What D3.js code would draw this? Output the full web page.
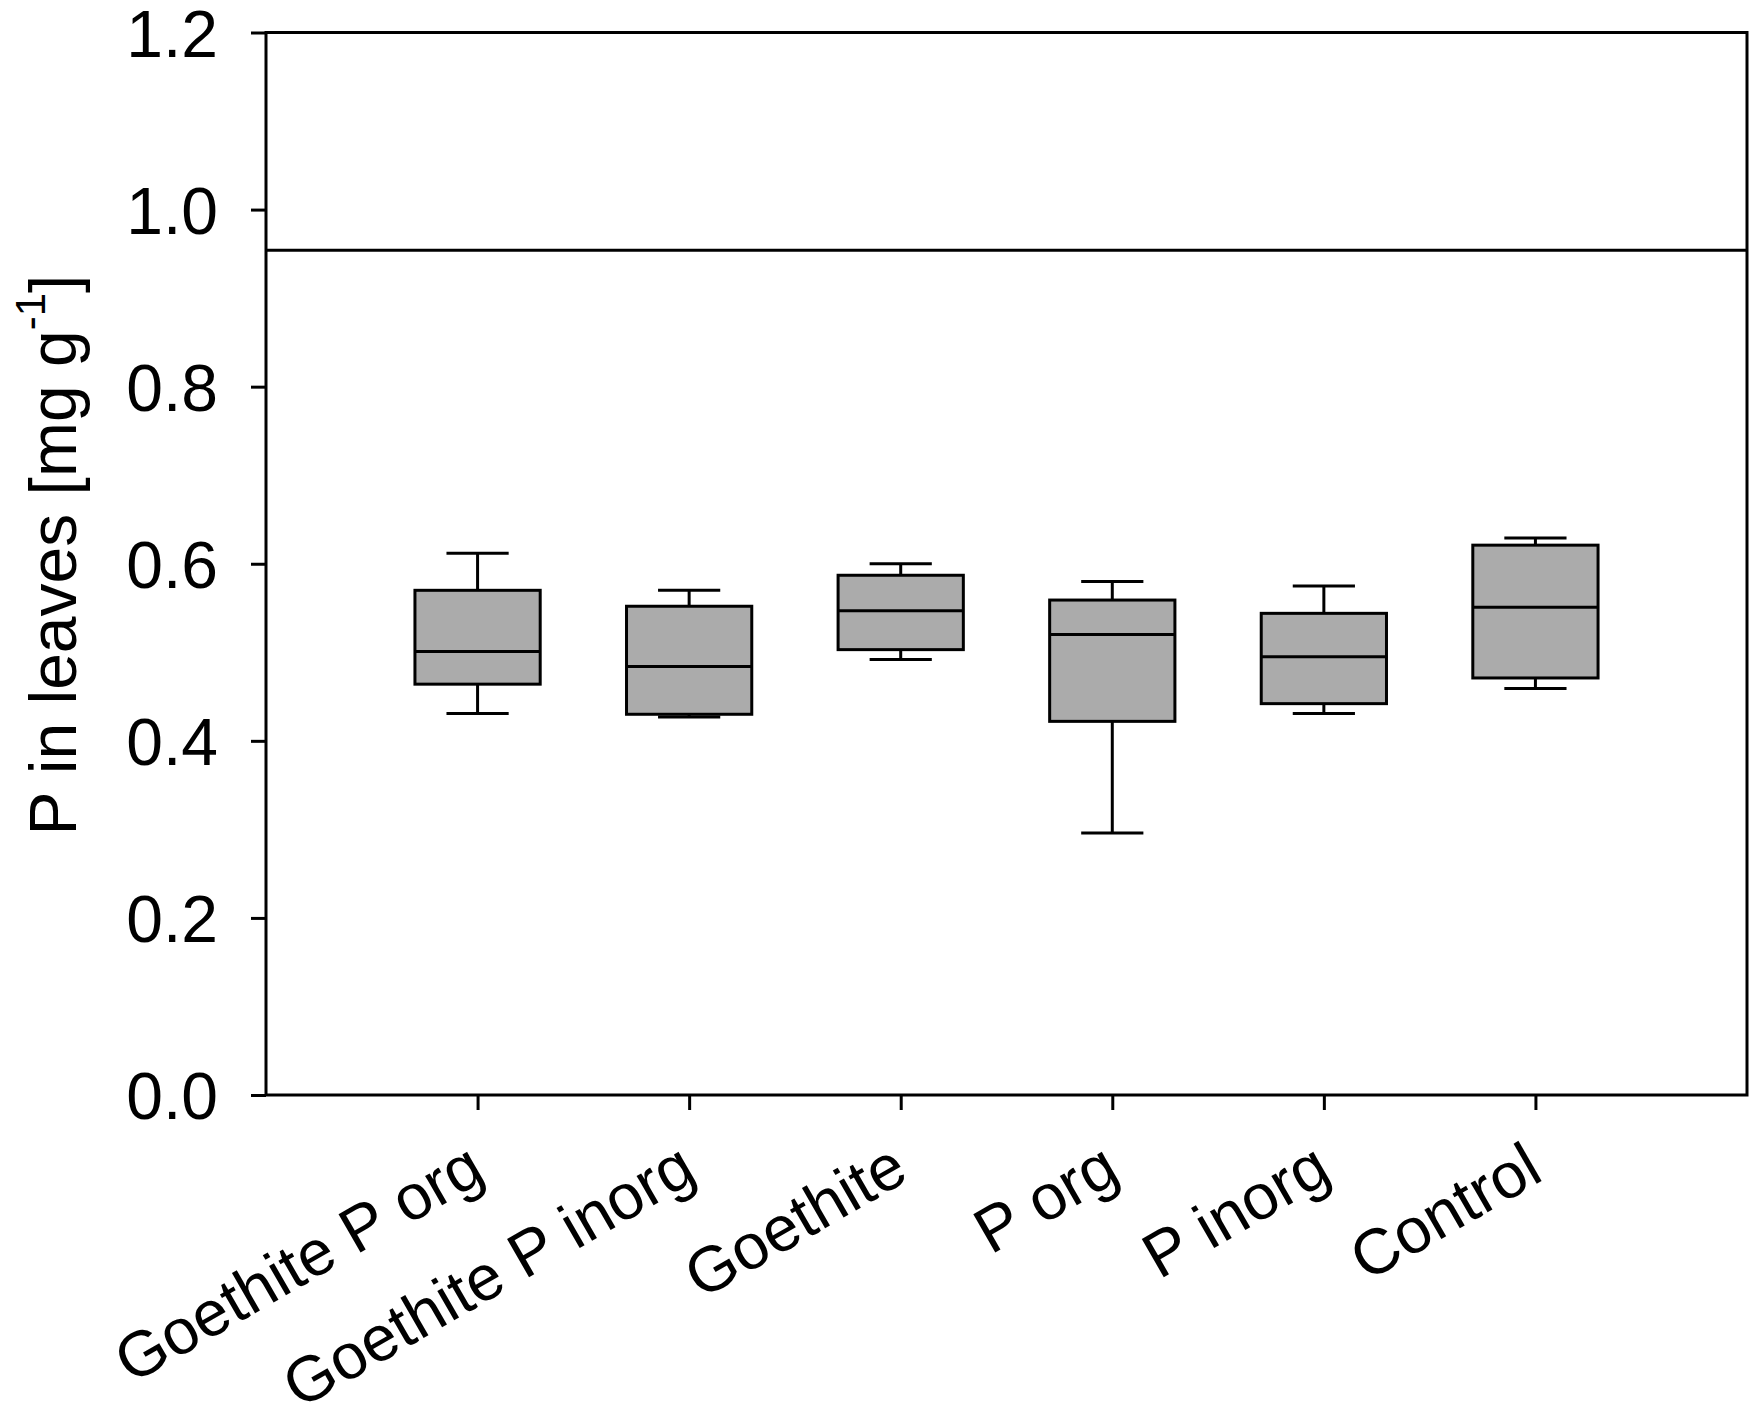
<!DOCTYPE html>
<html lang="en">
    <head>
        <meta charset="UTF-8" />
        <title>P in leaves</title>
        <script src="https://cdn.jsdelivr.net/npm/d3@7"></script>
        <style>
            body { margin: 0; background: #fff; }
            text { font-family: "Liberation Sans", Arial, sans-serif; fill: #000; }
        </style>
    </head>
    <body>
        <div class="main_div"></div>
        <script>
            // data
            const categories = ["Goethite P org", "Goethite P inorg", "Goethite", "P org", "P inorg", "Control"];
            const whiskerLow = [0.431, 0.427, 0.492, 0.296, 0.431, 0.459];
            const q1 = [0.464, 0.430, 0.503, 0.422, 0.442, 0.471];
            const median = [0.501, 0.484, 0.547, 0.520, 0.495, 0.551];
            const q3 = [0.570, 0.552, 0.587, 0.559, 0.544, 0.621];
            const whiskerHigh = [0.612, 0.570, 0.600, 0.580, 0.575, 0.629];
            const referenceLine = 0.954;
            const yTicks = [0.0, 0.2, 0.4, 0.6, 0.8, 1.0, 1.2];

            let width = 1749;
            let height = 1405;
            let plotLeft = 266, plotRight = 1747, plotTop = 32.5, plotBottom = 1095;

            const xScale = d3.scaleLinear([0, categories.length + 1], [plotLeft, plotRight]);
            const yScale = d3.scaleLinear([0, 1.2], [plotBottom, plotTop]);

            const svg = d3.select(".main_div")
                          .append("svg")
                          .attr("width", width)
                          .attr("height", height);

            // reference line
            svg.append("line")
               .attr("x1", plotLeft).attr("x2", plotRight)
               .attr("y1", yScale(referenceLine)).attr("y2", yScale(referenceLine))
               .attr("stroke", "#000").attr("stroke-width", 3);

            let boxes = categories.map((c, i) => ({
                name: c, pos: i + 1,
                lo: whiskerLow[i], q1: q1[i], med: median[i], q3: q3[i], hi: whiskerHigh[i]
            }));

            let boxHalf = 0.296, capHalf = 0.147;
            let g = svg.selectAll(".box").data(boxes).enter().append("g").classed("box", true);

            // whiskers
            g.append("line")
             .attr("x1", d => xScale(d.pos)).attr("x2", d => xScale(d.pos))
             .attr("y1", d => yScale(d.q3)).attr("y2", d => yScale(d.hi))
             .attr("stroke", "#000").attr("stroke-width", 3);
            g.append("line")
             .attr("x1", d => xScale(d.pos)).attr("x2", d => xScale(d.pos))
             .attr("y1", d => yScale(d.q1)).attr("y2", d => yScale(d.lo))
             .attr("stroke", "#000").attr("stroke-width", 3);
            g.append("line")
             .attr("x1", d => xScale(d.pos - capHalf)).attr("x2", d => xScale(d.pos + capHalf))
             .attr("y1", d => yScale(d.hi)).attr("y2", d => yScale(d.hi))
             .attr("stroke", "#000").attr("stroke-width", 3);
            g.append("line")
             .attr("x1", d => xScale(d.pos - capHalf)).attr("x2", d => xScale(d.pos + capHalf))
             .attr("y1", d => yScale(d.lo)).attr("y2", d => yScale(d.lo))
             .attr("stroke", "#000").attr("stroke-width", 3);

            // boxes
            g.append("rect")
             .attr("x", d => xScale(d.pos - boxHalf))
             .attr("width", d => xScale(d.pos + boxHalf) - xScale(d.pos - boxHalf))
             .attr("y", d => yScale(d.q3))
             .attr("height", d => yScale(d.q1) - yScale(d.q3))
             .attr("fill", "#ababab")
             .attr("stroke", "#000").attr("stroke-width", 3);
            g.append("line")
             .attr("x1", d => xScale(d.pos - boxHalf)).attr("x2", d => xScale(d.pos + boxHalf))
             .attr("y1", d => yScale(d.med)).attr("y2", d => yScale(d.med))
             .attr("stroke", "#000").attr("stroke-width", 3);

            // frame
            svg.append("rect")
               .attr("x", plotLeft).attr("y", plotTop)
               .attr("width", plotRight - plotLeft).attr("height", plotBottom - plotTop)
               .attr("fill", "none").attr("stroke", "#000").attr("stroke-width", 3);

            // y axis
            let yAxis = svg.append("g")
               .attr("transform", "translate(" + plotLeft + ",0)")
               .call(d3.axisLeft(yScale).tickValues(yTicks).tickSize(15).tickPadding(33).tickFormat(d3.format(".1f")));
            yAxis.select(".domain").remove();
            yAxis.selectAll("line").attr("stroke-width", 3);
            yAxis.selectAll("text").style("font-size", "66px").attr("font-family", null).attr("dy", "0.36em");

            // x axis
            let xAxis = svg.append("g")
               .attr("transform", "translate(0," + plotBottom + ")")
               .call(d3.axisBottom(xScale).tickValues(d3.range(1, categories.length + 1)).tickSize(15).tickFormat(""));
            xAxis.select(".domain").remove();
            xAxis.selectAll("line").attr("stroke-width", 3);

            svg.selectAll(".xlabel").data(categories).enter()
               .append("text")
               .classed("xlabel", true)
               .attr("text-anchor", "end")
               .attr("transform", (d, i) => "translate(" + (xScale(i + 1) + 10) + "," + (plotBottom + 84) + ") rotate(-30)")
               .style("font-size", "64px")
               .text(d => d);

            // y label
            let yl = svg.append("text")
               .attr("text-anchor", "middle")
               .attr("transform", "translate(76,555) rotate(-90)")
               .style("font-size", "66px");
            yl.append("tspan").text("P in leaves [mg g");
            yl.append("tspan").attr("dy", "-0.75em").style("font-size", "42px").text("-1");
            yl.append("tspan").attr("dy", "0.47em").text("]");
        </script>
    </body>
</html>
